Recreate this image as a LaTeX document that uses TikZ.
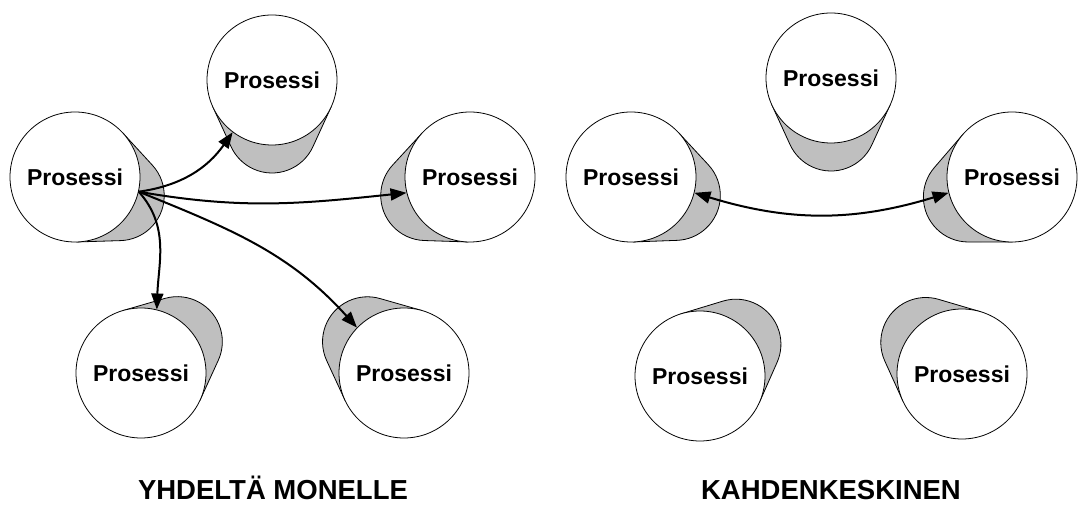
\documentclass[tikz,border=0pt]{standalone}
\usepackage{fontspec}
\setmainfont{Liberation Sans}
\usetikzlibrary{calc,arrows.meta}

% geometry of a process cylinder: front face, back face, axis length
\def\rfront{65pt}
\def\rback{45pt}
\def\axlen{48pt}
\pgfmathsetmacro\tang{acos((65-45)/48)}

\tikzset{
  proc/.style={circle, draw, fill=white, line width=0.8pt, minimum size=130pt,
    inner sep=0pt, font=\fontsize{23}{27}\selectfont\bfseries},
  backface/.style={draw, fill=gray!50, line width=0.8pt},
  tip/.style={Triangle[length=16pt,width=12pt]},
  msg/.style={line width=2pt, -{Triangle[length=16pt,width=12pt]}},
  caption/.style={anchor=base, font=\fontsize{27.5}{32}\selectfont\bfseries}
}

% a process drawn as a cylinder whose axis points at a vanishing point
% #1 node name, #2 centre of the front face, #3 vanishing point
\newcommand\procshape[3]{%
  \draw[backface] let \p1=($(#3)-(#2)$), \n1={atan2(\y1,\x1)} in
    ($(#2)+(\n1+\tang:\rfront)$)
    -- ($(#2)+(\n1:\axlen)+(\n1+\tang:\rback)$)
    arc[start angle=\n1+\tang, end angle=\n1-\tang, radius=\rback]
    -- ($(#2)+(\n1-\tang:\rfront)$) -- cycle;
  \node[proc] (#1) at (#2) {Prosessi};
}

\begin{document}
\begin{tikzpicture}[x=1pt,y=1pt]
  \useasboundingbox (0,0) rectangle (1090,506);

  % vanishing points of the two groups
  \coordinate (vpl) at (272,246);
  \coordinate (vpr) at (831,246);

  % one to many
  \procshape{a}{75,329}{vpl}
  \procshape{b}{272,426}{vpl}
  \procshape{c}{470,329}{vpl}
  \procshape{d}{141,133}{vpl}
  \procshape{e}{404,133}{vpl}

  % one to one
  \procshape{f}{631,329}{vpr}
  \procshape{g}{831,428}{vpr}
  \procshape{h}{1012,329}{vpr}
  \procshape{i}{700,130}{vpr}
  \procshape{j}{962,132}{vpr}

  % messages
  \coordinate (src) at (a.-13);
  \draw[msg] (src) to[out=8, in=235] (b.-127);
  \draw[msg] (src) to[out=-10, in=186] (c.194);
  \draw[msg] (src) to[out=-22, in=132] (e.136);
  \draw[msg] (src) to[out=-48, in=88] (d.76);
  \draw[line width=2pt, {Triangle[length=16pt,width=12pt]}-{Triangle[length=16pt,width=12pt]}]
    (f.-14) to[out=-17, in=197] (h.194);

  % captions
  \node[caption] (capl) at (273,6) {YHDELTÄ MONELLE};
  \node[caption] (capr) at (831,6) {KAHDENKESKINEN};
\end{tikzpicture}
\end{document}
